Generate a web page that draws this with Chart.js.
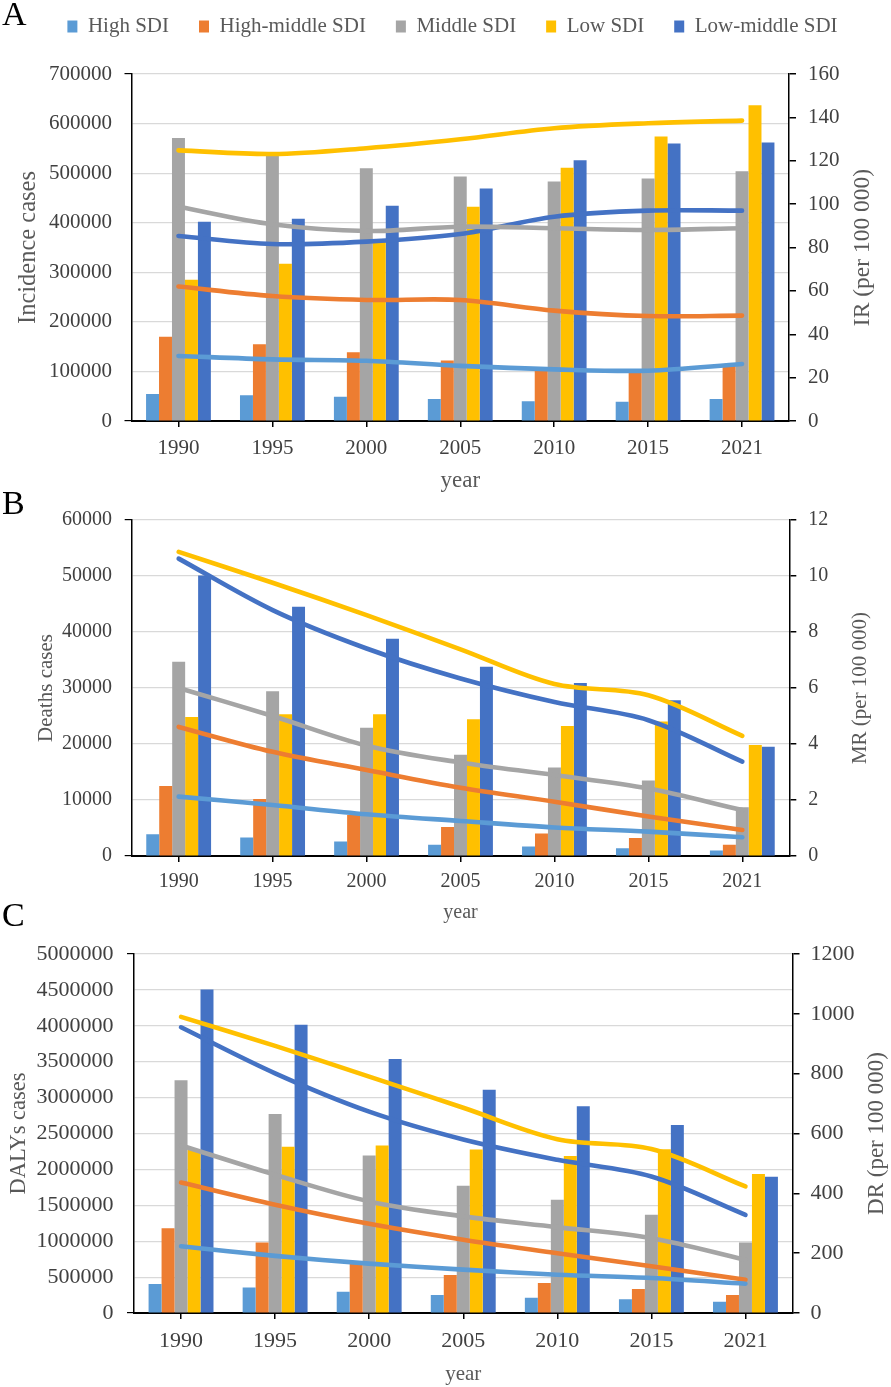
<!DOCTYPE html>
<html>
<head>
<meta charset="utf-8">
<title>SDI burden 1990-2021</title>
<script src="https://cdn.jsdelivr.net/npm/chart.js@4.4.1/dist/chart.umd.min.js"></script>
<style>
  html, body { margin: 0; padding: 0; background: #fff; }
  body { width: 891px; height: 1387px; position: relative; overflow: hidden;
         font-family: 'Times New Roman', 'Liberation Serif', serif; }
  .panel { position: absolute; left: 0; width: 891px; }
  .tag { position: absolute; left: 2px; font-size: 34px; line-height: 1; color: #000; z-index: 2; }
</style>
</head>
<body>
<div class="tag" style="top:-3px">A</div>
<div class="tag" style="top:486px">B</div>
<div class="tag" style="top:898px">C</div>

<div class="panel" style="top:-14px;height:509px"><canvas id="chartA"></canvas></div>
<div class="panel" style="top:495px;height:430px"><canvas id="chartB"></canvas></div>
<div class="panel" style="top:925px;height:462px"><canvas id="chartC"></canvas></div>

<script>
const years = ['1990', '1995', '2000', '2005', '2010', '2015', '2021'];
const groups = ['High SDI', 'High-middle SDI', 'Middle SDI', 'Low SDI', 'Low-middle SDI'];

// A - incidence cases (bars) and IR per 100 000 (lines)
const incHigh = [54500, 52000, 49000, 44500, 40000, 39000, 44500];
const incHighMiddle = [170000, 155000, 138500, 122000, 106000, 101500, 112000];
const incMiddle = [571000, 538000, 510000, 493000, 483000, 489000, 504000];
const incLow = [285000, 317000, 362000, 432000, 511000, 574000, 637000];
const incLowMiddle = [402000, 408000, 434000, 469000, 526000, 560000, 562000];
const irHigh = [30.0, 28.4, 27.8, 25.4, 23.8, 23.2, 26.3];
const irHighMiddle = [62.0, 57.6, 55.8, 55.8, 50.9, 48.4, 48.6];
const irMiddle = [98.8, 90.7, 87.6, 89.6, 88.9, 88.1, 88.9];
const irLow = [124.8, 123.1, 125.8, 129.9, 135.0, 137.3, 138.5];
const irLowMiddle = [85.3, 81.6, 82.7, 86.2, 94.2, 97.0, 97.0];

// B - deaths (bars) and MR per 100 000 (lines)
const deathHigh = [3900, 3300, 2600, 2000, 1700, 1400, 1000];
const deathHighMiddle = [12500, 10200, 7300, 5200, 4000, 3200, 2000];
const deathMiddle = [34700, 29400, 22900, 18100, 15800, 13500, 8700];
const deathLow = [24800, 25300, 25300, 24400, 23200, 24000, 19800];
const deathLowMiddle = [50100, 44500, 38800, 33800, 30900, 27800, 19500];
const mrHigh = [2.12, 1.82, 1.49, 1.25, 1.02, 0.87, 0.67];
const mrHighMiddle = [4.61, 3.72, 3.07, 2.44, 1.94, 1.41, 0.93];
const mrMiddle = [6.0, 5.0, 3.94, 3.34, 2.89, 2.41, 1.64];
const mrLow = [10.86, 9.76, 8.6, 7.38, 6.14, 5.74, 4.29];
const mrLowMiddle = [10.62, 8.78, 7.41, 6.34, 5.5, 4.85, 3.37];

// C - DALYs (bars) and DR per 100 000 (lines)
const dalyHigh = [403000, 356000, 296000, 250000, 213000, 190000, 157000];
const dalyHighMiddle = [1180000, 981000, 700000, 528000, 417000, 333000, 250000];
const dalyMiddle = [3240000, 2773000, 2194000, 1773000, 1579000, 1370000, 981000];
const dalyLow = [2270000, 2315000, 2333000, 2278000, 2185000, 2282000, 1935000];
const dalyLowMiddle = [4505000, 4014000, 3537000, 3111000, 2880000, 2620000, 1898000];
const drHigh = [223, 191, 165, 145, 128, 117, 98];
const drHighMiddle = [436, 362, 298, 245, 200, 156, 111];
const drMiddle = [560, 462, 373, 323, 287, 250, 178];
const drLow = [990, 893, 790, 686, 581, 548, 423];
const drLowMiddle = [955, 801, 673, 580, 512, 456, 328];

const colors = ['#5B9BD5', '#ED7D31', '#A5A5A5', '#FFC000', '#4472C4'];
const SERIF = "'Times New Roman', 'Liberation Serif', serif";

// right-hand axis title, read bottom to top like the left one
const sideTitle = {
  id: 'sideTitle',
  afterDraw(chart, args, opts) {
    if (!opts.text) return;
    const {ctx, chartArea} = chart;
    ctx.save();
    ctx.translate(opts.x, (chartArea.top + chartArea.bottom) / 2);
    ctx.rotate(-Math.PI / 2);
    ctx.font = opts.size + 'px ' + SERIF;
    ctx.fillStyle = '#595959';
    ctx.textAlign = 'center';
    ctx.textBaseline = 'middle';
    ctx.fillText(opts.text, 0, 0);
    ctx.restore();
  }
};

// fixed legend block height so the plot starts where it should
const legendHeight = {
  id: 'legendHeight',
  beforeUpdate(chart, args, opts) {
    if (!opts.height || !chart.legend || chart.legend._patched) return;
    const fit = chart.legend.fit;
    chart.legend.fit = function () { fit.call(this); this.height = opts.height; };
    chart.legend._patched = true;
  }
};

function makeChart(id, p) {
  const datasets = [];
  p.bars.forEach((vals, i) => datasets.push({
    type: 'bar', label: groups[i], data: vals, backgroundColor: colors[i],
    yAxisID: 'y', order: 2, categoryPercentage: 0.69, barPercentage: 1
  }));
  p.lines.forEach((vals, i) => datasets.push({
    type: 'line', label: groups[i] + ' rate', data: vals, borderColor: colors[i],
    borderWidth: 4.6, pointRadius: 0, tension: 0.33, fill: false,
    borderCapStyle: 'round', borderJoinStyle: 'round', yAxisID: 'y1', order: 1
  }));

  const tickFont = {family: SERIF, size: p.tick};

  new Chart(document.getElementById(id), {
    type: 'bar',
    data: {labels: years, datasets: datasets},
    plugins: [sideTitle, legendHeight],
    options: {
      responsive: true,
      maintainAspectRatio: false,
      animation: false,
      events: [],
      layout: {padding: {top: p.padTop, left: p.padLeft || 0, right: 0, bottom: 0}},
      plugins: {
        tooltip: {enabled: false},
        legend: {
          display: !!p.legend,
          position: 'top',
          labels: {
            boxWidth: 10, boxHeight: 12, padding: 30, color: '#595959',
            font: {family: SERIF, size: 21},
            filter: item => item.datasetIndex < 5
          }
        },
        legendHeight: {height: p.legend ? p.legendH : 0},
        sideTitle: {text: p.rightTitle, x: p.rightTitleX, size: p.rightTitleSize}
      },
      scales: {
        x: {
          grid: {drawOnChartArea: false, drawTicks: true, tickLength: 6, offset: false, color: '#000', lineWidth: 1.5},
          border: {color: '#000', width: 2},
          ticks: {color: '#404040', font: tickFont, padding: p.xPad, maxRotation: 0, autoSkip: false},
          title: {display: true, text: 'year', color: '#595959', font: {family: SERIF, size: p.xTitle}, padding: 0},
          afterFit: s => { s.height = p.xHeight; }
        },
        y: {
          position: 'left', min: 0, max: p.leftMax,
          ticks: {stepSize: p.leftStep, color: '#404040', font: tickFont, padding: p.yPad, callback: v => String(v)},
          grid: {
            color: '#d9d9d9', lineWidth: 1.2, drawTicks: true, tickLength: 7,
            tickColor: c => (c.tick && (c.tick.value === 0 || c.tick.value === p.leftMax)) ? '#000' : 'rgba(0,0,0,0)'
          },
          border: {color: '#000', width: 1.5},
          title: {display: true, text: p.leftTitle, color: '#595959',
                  font: {family: SERIF, size: p.leftTitleSize}, padding: {top: p.leftTitlePad, bottom: 0}},
          afterFit: s => { s.width = p.leftW; }
        },
        y1: {
          position: 'right', min: 0, max: p.rightMax,
          ticks: {stepSize: p.rightStep, color: '#404040', font: tickFont, padding: p.rPad, callback: v => String(v)},
          grid: {drawOnChartArea: false, drawTicks: true, tickLength: 7, color: '#000', lineWidth: 1.5},
          border: {color: '#000', width: 1.5},
          afterFit: s => { s.width = p.rightW; }
        }
      }
    }
  });
}

makeChart('chartA', {
  bars: [incHigh, incHighMiddle, incMiddle, incLow, incLowMiddle],
  lines: [irHigh, irHighMiddle, irMiddle, irLow, irLowMiddle],
  leftMax: 700000, leftStep: 100000, rightMax: 160, rightStep: 20,
  leftTitle: 'Incidence cases', rightTitle: 'IR (per 100 000)',
  legend: true, legendH: 88, padTop: 0, padLeft: 14,
  tick: 21, xTitle: 23, leftTitleSize: 24.5, rightTitleSize: 23.5,
  leftW: 117.5, rightW: 102, xHeight: 74, xPad: 8.4, yPad: 12.5, rPad: 12,
  leftTitlePad: 0, rightTitleX: 863
});

makeChart('chartB', {
  bars: [deathHigh, deathHighMiddle, deathMiddle, deathLow, deathLowMiddle],
  lines: [mrHigh, mrHighMiddle, mrMiddle, mrLow, mrLowMiddle],
  leftMax: 60000, leftStep: 10000, rightMax: 12, rightStep: 2,
  leftTitle: 'Deaths cases', rightTitle: 'MR (per 100 000)',
  legend: false, padTop: 25,
  tick: 20, xTitle: 20, leftTitleSize: 21, rightTitleSize: 21,
  leftW: 131.7, rightW: 101.7, xHeight: 69, xPad: 7.7, yPad: 12.7, rPad: 12,
  leftTitlePad: 33.4, rightTitleX: 860
});

makeChart('chartC', {
  bars: [dalyHigh, dalyHighMiddle, dalyMiddle, dalyLow, dalyLowMiddle],
  lines: [drHigh, drHighMiddle, drMiddle, drLow, drLowMiddle],
  leftMax: 5000000, leftStep: 500000, rightMax: 1200, rightStep: 200,
  leftTitle: 'DALYs cases', rightTitle: 'DR (per 100 000)',
  legend: false, padTop: 29,
  tick: 22, xTitle: 21, leftTitleSize: 22.5, rightTitleSize: 23,
  leftW: 134, rightW: 98.5, xHeight: 74, xPad: 9.5, yPad: 13.4, rPad: 11,
  leftTitlePad: 5.5, rightTitleX: 877
});
</script>
</body>
</html>
